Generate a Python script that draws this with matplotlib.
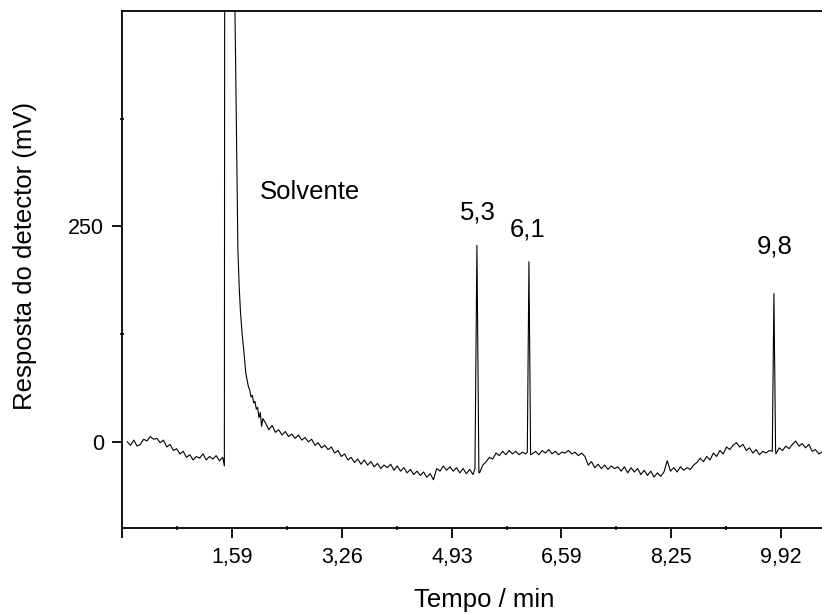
import numpy as np
import matplotlib
matplotlib.use("Agg")
import matplotlib.pyplot as plt
from matplotlib.ticker import FixedLocator

plt.rcParams['font.family'] = ['Liberation Sans', 'DejaVu Sans']

# baseline before the solvent peak, one reading every 0.05 min starting at 0.00 min
base1_start = 0.0
base1_step = 0.05
base1_mv = [0, -4, 2, -5, -3, 3, 1, 6, 3, 4,
            -1, 2, -6, -3, -10, -8, -14, -11, -18, -15,
            -21, -17, -19, -14, -21, -17, -20, -16, -22, -18]

# solvent peak and its tail (min, mV), apex is far off scale
solvent_t = [1.475, 1.50, 1.636, 1.665, 1.68, 1.70, 1.72, 1.745, 1.77, 1.80,
             1.82, 1.84, 1.86, 1.88, 1.90, 1.92, 1.94, 1.96, 1.98, 2.00,
             2.02, 2.04, 2.06]
solvent_mv = [-28, 3000, 500, 318, 225, 180, 150, 125, 106, 80,
              72, 64, 60, 52, 54, 45, 47, 38, 40, 28,
              34, 18, 27]

# baseline after the solvent tail, every 0.05 min starting at 2.10 min
base2_start = 2.10
base2_step = 0.05
base2_mv = [22, 14, 19, 11, 14, 8, 12, 6, 9, 4,
            8, 2, 5, 0, 3, -4, -1, -7, -4, -9,
            -6, -13, -10, -17, -14, -21, -18, -24, -20, -26,
            -21, -27, -23, -29, -25, -31, -27, -30, -26, -33,
            -28, -34, -30, -36, -32, -38, -34, -39, -35, -41,
            -37, -44, -31, -34, -28, -33, -29, -34, -30, -36,
            -31, -37, -32, -38, -34, -36, -27, -23, -18, -20,
            -13, -16, -11, -15, -10, -14, -11, -15, -12, -14,
            -13, -14, -11, -15, -10, -13, -9, -14, -11, -15,
            -12, -13, -10, -14, -12, -16, -13, -17, -27, -23,
            -30, -26, -31, -27, -32, -28, -31, -29, -34, -29,
            -36, -30, -35, -31, -38, -33, -39, -34, -41, -36,
            -40, -35, -22, -34, -30, -35, -29, -33, -30, -32,
            -27, -24, -19, -23, -17, -21, -13, -17, -10, -14,
            -6, -9, -4, -1, -6, -3, -10, -7, -13, -9,
            -15, -11, -13, -10, -9, -14, -7, -10, -5, -8,
            -3, 1, -5, -2, -7, -3, -11, -9, -14, -12, -10]

# the three sample peaks (min, mV)
peak_t = [[5.28, 5.31, 5.34], [6.075, 6.10, 6.125], [9.795, 9.82, 9.845]]
peak_mv = [[-31, 228, -36], [-12, 209, -15], [-11, 172, -9]]

peak_labels = ["5,3", "6,1", "9,8"]
label_t = [5.32, 6.08, 9.83]
label_mv = [258, 238, 218]

x_ticks = [-0.084, 1.59, 3.26, 4.93, 6.59, 8.25, 9.92]
x_tick_labels = ["", "1,59", "3,26", "4,93", "6,59", "8,25", "9,92"]
x_minor = [0.753, 2.425, 4.095, 5.76, 7.42, 9.085]
y_ticks = [0, 250]
y_tick_labels = ["0", "250"]
y_minor = [125, 375]


def build_trace():
    """
    Puts the baseline, solvent and peak readings together in time order
    """
    t1 = base1_start + base1_step * np.arange(len(base1_mv))
    t2 = base2_start + base2_step * np.arange(len(base2_mv))
    keep = np.ones(len(t2), bool)
    for pt in peak_t:
        keep &= ~((t2 >= min(pt)) & (t2 <= max(pt)))
    time = np.concatenate([t1, solvent_t, t2[keep]] + [np.array(p) for p in peak_t])
    signal = np.concatenate([base1_mv, solvent_mv, np.array(base2_mv)[keep]]
                            + [np.array(p) for p in peak_mv])
    order = np.argsort(time)
    return time[order], signal[order]


def main():
    time, signal = build_trace()

    fig = plt.figure(figsize=(8.22, 6.14), dpi=100)
    ax = fig.add_axes([121.7 / 822, 86 / 614, 1 - 121.7 / 822 + 0.002, 517 / 614])
    ax.plot(time, signal, color="black", linewidth=0.8)

    ax.set_xlim(-0.084, 10.575)
    ax.set_ylim(-100, 500)

    ax.set_xticks(x_ticks)
    ax.set_xticklabels(x_tick_labels)
    ax.xaxis.set_minor_locator(FixedLocator(x_minor))
    ax.set_yticks(y_ticks)
    ax.set_yticklabels(y_tick_labels)
    ax.yaxis.set_minor_locator(FixedLocator(y_minor))

    ax.spines["right"].set_visible(False)
    for side in ["left", "bottom", "top"]:
        ax.spines[side].set_linewidth(1.3)
    ax.tick_params(which="major", direction="out", length=7.5, width=1.3, labelsize=15.5)
    ax.tick_params(axis="x", which="major", pad=6)
    ax.tick_params(axis="y", which="major", pad=5)
    ax.tick_params(which="minor", direction="inout", length=3, width=1.2)

    ax.text(2.01, 282, "Solvente", fontsize=18.5, ha="left", va="baseline")
    for lab, t, mv in zip(peak_labels, label_t, label_mv):
        ax.text(t, mv, lab, fontsize=18.5, ha="center", va="baseline")

    fig.text(484 / 822, 7 / 614, "Tempo / min", fontsize=18.5, ha="center", va="baseline")
    fig.text(25 / 822, 1 - 256 / 614, "Resposta do detector (mV)", fontsize=18.5,
             rotation=90, ha="center", va="center")

    fig.savefig("out.png", dpi=100)


main()
